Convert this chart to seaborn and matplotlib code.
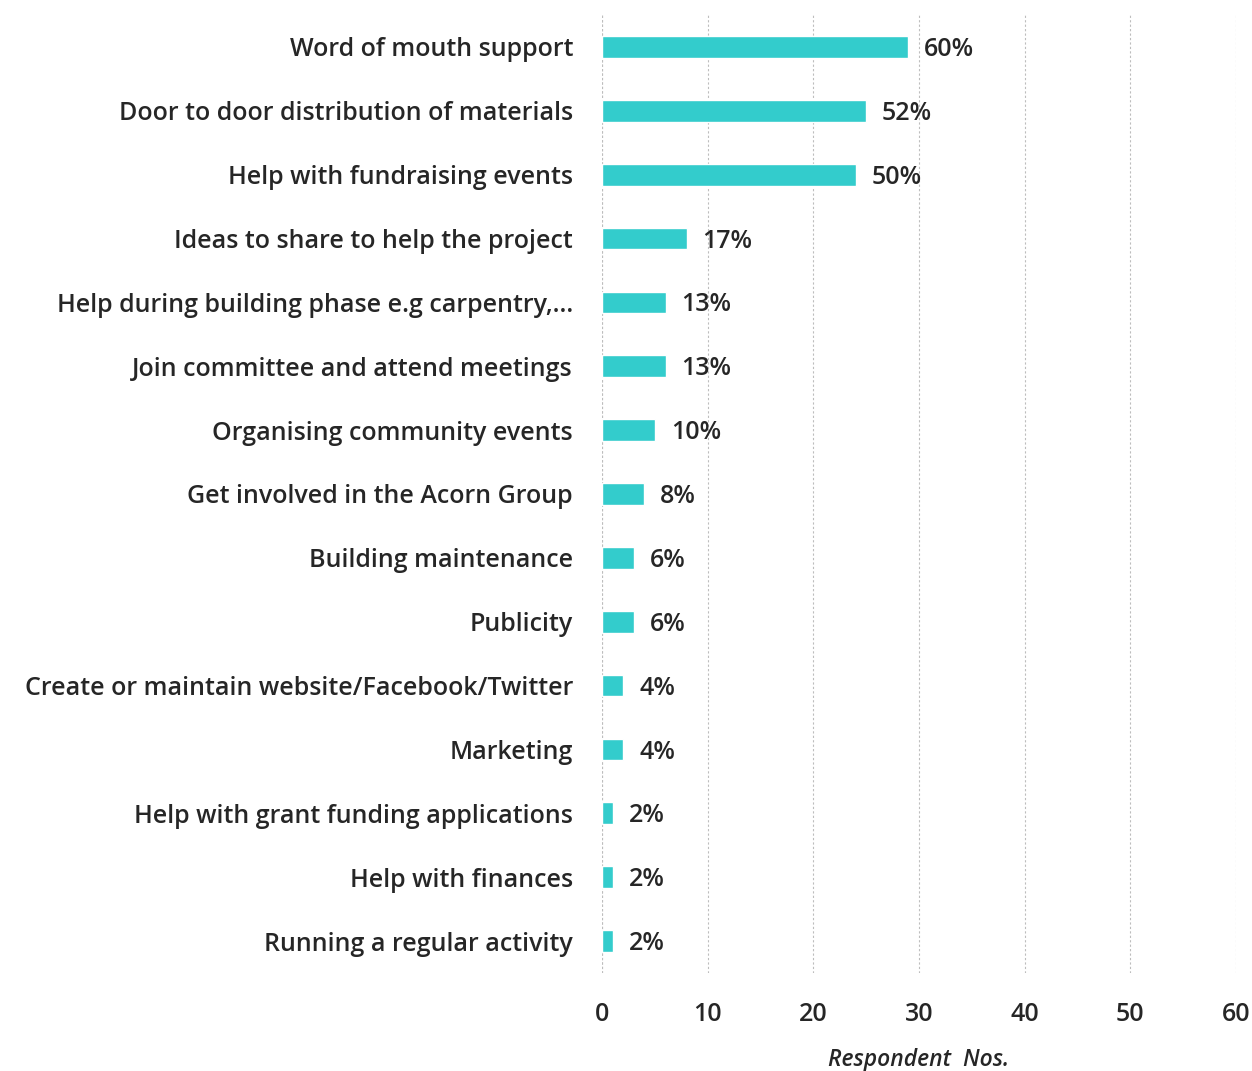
import pandas as pd
import matplotlib.pyplot as plt
import seaborn as sns

# survey answers, top to bottom
activities = [
    "Word of mouth support",
    "Door to door distribution of materials",
    "Help with fundraising events",
    "Ideas to share to help the project",
    "Help during building phase e.g carpentry,...",
    "Join committee and attend meetings",
    "Organising community events",
    "Get involved in the Acorn Group",
    "Building maintenance",
    "Publicity",
    "Create or maintain website/Facebook/Twitter",
    "Marketing",
    "Help with grant funding applications",
    "Help with finances",
    "Running a regular activity",
]
respondents = [29, 25, 24, 8, 6, 6, 5, 4, 3, 3, 2, 2, 1, 1, 1]
percent_labels = ["60%", "52%", "50%", "17%", "13%", "13%", "10%", "8%",
                  "6%", "6%", "4%", "4%", "2%", "2%", "2%"]

data = pd.DataFrame({"Activity": activities, "Respondents": respondents})

sns.set_style("white")
plt.rcParams["font.family"] = ["Open Sans", "DejaVu Sans"]

fig = plt.figure(figsize=(12.52, 10.71), dpi=100)
ax = fig.add_axes([0.481, 0.0915, 0.506, 0.8945])

sns.barplot(data=data, x="Respondents", y="Activity", color="#33CCCC",
            width=0.34, saturation=1, ax=ax)

for i, (v, lab) in enumerate(zip(respondents, percent_labels)):
    ax.text(v + 1.5, i + 0.04, lab, va="center", ha="left", fontsize=18,
            fontweight="semibold", color="#262626")

ax.set_xlim(0, 60)
ax.set_ylim(14.5, -0.5)
ax.set_xticks(range(0, 61, 10))
ax.xaxis.grid(True, linestyle=(0, (2, 2)), color="#bdbdbd", linewidth=0.8)
ax.axvline(0, color="#bdbdbd", linestyle=(0, (2, 2)), linewidth=0.8, zorder=0)
ax.set_axisbelow(True)
sns.despine(ax=ax, left=True, bottom=True)

ax.tick_params(axis="y", length=0, pad=21, labelsize=18, labelcolor="#262626")
ax.tick_params(axis="x", length=0, pad=21, labelsize=18, labelcolor="#262626")
for t in ax.get_yticklabels() + ax.get_xticklabels():
    t.set_fontweight("semibold")

ax.set_ylabel("")
ax.set_xlabel("Respondent  Nos.", fontsize=16.5, fontstyle="italic",
              fontweight="semibold", color="#262626", labelpad=15)

plt.savefig("out.png", dpi=100)
